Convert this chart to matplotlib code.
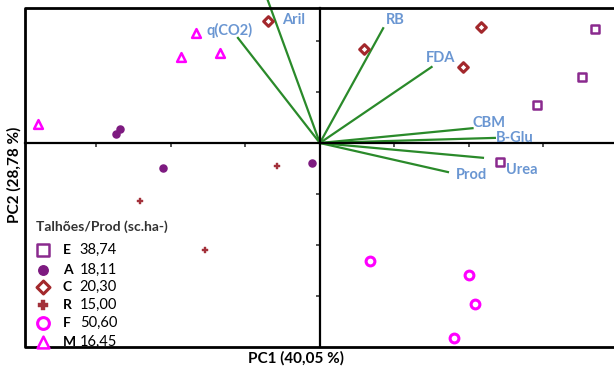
import matplotlib.pyplot as plt
from matplotlib.lines import Line2D

plt.rcParams["font.family"] = ["Lato", "DejaVu Sans"]

# -------------------- Data (PC scores) --------------------

GROUPS = ["E", "A", "C", "R", "F", "M"]
PROD = ["38,74", "18,11", "20,30", "15,00", "50,60", "16,45"]

E_X = [3.69, 3.52, 2.91, 2.42]
E_Y = [2.24, 1.29, 0.75, -0.37]
A_X = [-2.74, -2.68, -2.11, -0.11]
A_Y = [0.18, 0.27, -0.49, -0.39]
C_X = [-0.70, 0.59, 1.92, 2.17]
C_Y = [2.39, 1.84, 1.49, 2.27]
R_X = [-0.58, -2.42, -1.54]
R_Y = [-0.45, -1.14, -2.10]
F_X = [0.67, 2.00, 2.09, 1.80]
F_Y = [-2.31, -2.59, -3.16, -3.82]
M_X = [-3.79, -1.87, -1.66, -1.34]
M_Y = [0.37, 1.69, 2.16, 1.76]

VAR_NAMES = ["Aril", "q(CO2)", "RB", "FDA", "CBM", "B-Glu", "Urea", "Prod"]
VAR_X = [-0.70, -1.10, 0.85, 1.50, 2.05, 2.35, 2.19, 1.72]
VAR_Y = [2.80, 2.06, 2.25, 1.49, 0.29, 0.10, -0.29, -0.57]
LABEL_X = [-0.51, -1.52, 0.88, 1.43, 2.05, 2.36, 2.50, 1.83]
LABEL_Y = [2.41, 2.20, 2.41, 1.67, 0.40, 0.10, -0.53, -0.63]

XTICKS = [-3, -2, -1, 1, 2, 3]
YTICKS = [-3, -2, -1, 1, 2]

# -------------------- Styles --------------------

STYLE = {
    "E": dict(marker="s", s=40, facecolor="white", edgecolor="#8a2a8e", linewidth=1.8),
    "A": dict(marker="o", s=26, facecolor="#7d1a80", edgecolor="#7d1a80", linewidth=1),
    "C": dict(marker="D", s=24, facecolor="white", edgecolor="#a3282c", linewidth=2.2),
    "R": dict(marker="P", s=24, facecolor="#a3303a", edgecolor="#a3303a", linewidth=0.3),
    "F": dict(marker="o", s=40, facecolor="white", edgecolor="#ff00ff", linewidth=2.2),
    "M": dict(marker="^", s=40, facecolor="white", edgecolor="#ff00ff", linewidth=1.8),
}
SERIES = {"E": (E_X, E_Y), "A": (A_X, A_Y), "C": (C_X, C_Y),
          "R": (R_X, R_Y), "F": (F_X, F_Y), "M": (M_X, M_Y)}

LOAD_COLOR = "#2a8a2a"
LABEL_COLOR = "#6a96d2"

fig = plt.figure(figsize=(6.14, 3.69), dpi=100)
ax = fig.add_axes([25 / 614, 22 / 369, 1 - 25 / 614, 339 / 369])
ax.set_xlim(-3.96, 3.95)
ax.set_ylim(-4.0, 2.647)

# center axes through origin
for side in ["left", "bottom"]:
    ax.spines[side].set_position(("data", 0))
    ax.spines[side].set_linewidth(1.6)
ax.spines["top"].set_visible(False)
ax.spines["right"].set_visible(False)
ax.set_xticks(XTICKS)
ax.set_yticks(YTICKS)
ax.set_xticklabels([])
ax.set_yticklabels([])
ax.tick_params(direction="out", length=3, width=1.4, color="#555555")

# outer frame (left, top, bottom only)
ax.add_line(Line2D([1, 0, 0, 1], [1, 1, 0, 0], transform=ax.transAxes,
                   color="black", linewidth=2, clip_on=False, zorder=5))

# loading vectors
for name, vx, vy, lx, ly in zip(VAR_NAMES, VAR_X, VAR_Y, LABEL_X, LABEL_Y):
    ax.plot([0, vx], [0, vy], color=LOAD_COLOR, linewidth=1.6, zorder=2,
            clip_on=False)
    ax.text(lx, ly, name, color=LABEL_COLOR, fontsize=10.5, fontweight="bold",
            ha="left", va="center", zorder=4)

# scores
for g in GROUPS:
    xs, ys = SERIES[g]
    ax.scatter(xs, ys, zorder=3, **STYLE[g])

# legend drawn by hand
ax.text(0.019, 0.355, "Talhões/Prod (sc.ha-)", transform=ax.transAxes,
        fontsize=10, fontweight="bold", color="#333333", ha="left", va="center")
row_y = [0.287, 0.228, 0.177, 0.124, 0.071, 0.015]
for g, val, yy in zip(GROUPS, PROD, row_y):
    st = dict(STYLE[g])
    st["s"] = st["s"] * 1.8
    ax.scatter([0.031], [yy], transform=ax.transAxes, clip_on=False, zorder=6, **st)
    ax.text(0.064, yy, g, transform=ax.transAxes, fontsize=10,
            fontweight="bold", ha="left", va="center")
    ax.text(0.093, yy, val, transform=ax.transAxes, fontsize=10.5,
            ha="left", va="center")

fig.text(296 / 614, 1 - 358 / 369, "PC1 (40,05 %)", fontsize=11,
         fontweight="bold", ha="center", va="center")
fig.text(14 / 614, 1 - 175 / 369, "PC2 (28,78 %)", fontsize=11,
         fontweight="bold", ha="center", va="center", rotation=90)

fig.savefig("out.png", dpi=100)
